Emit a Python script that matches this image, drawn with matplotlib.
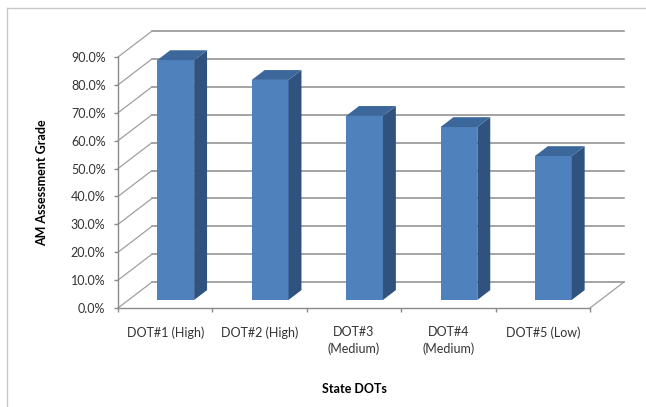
import matplotlib
matplotlib.use("Agg")
import matplotlib.pyplot as plt
from matplotlib.patches import Polygon
from matplotlib.lines import Line2D

# Chart data
categories = ["DOT#1 (High)", "DOT#2 (High)", "DOT#3\n(Medium)",
              "DOT#4\n(Medium)", "DOT#5 (Low)"]
grades = [86.0, 78.9, 66.0, 62.0, 51.6]
y_ticks = [0, 10, 20, 30, 40, 50, 60, 70, 80, 90]

plt.rcParams['font.family'] = ['Lato', 'DejaVu Sans']

# pseudo 3d settings (in data units)
DX = 0.36      # depth shift along x (categories)
DY = 9.3       # depth shift along y (percent)
f0, f1 = 0.31, 0.69   # bar depth span
bar_w = 0.39

front_c = '#4F81BD'
side_c = '#2F527E'
top_c = '#3C679B'
grid_c = '#8A8A8A'
fs = 9

fig = plt.figure(figsize=(6.46, 4.07), dpi=100)
ax = fig.add_axes([118 / 646, 99 / 407, 472 / 646, 251 / 407])
ax.set_xlim(0, len(categories))
ax.set_ylim(0, 90)
ax.patch.set_visible(False)

# back wall gridlines
for v in y_ticks:
    ax.plot([DX, len(categories) + DX], [v + DY, v + DY], color=grid_c,
            lw=1.1, clip_on=False, zorder=1)
    # side wall diagonals
    ax.plot([0, DX], [v, v + DY], color='#A0A0A0', lw=0.9, clip_on=False, zorder=1)

# floor right edge
n = len(categories)
ax.plot([n, n + DX], [0, DY], color='#A0A0A0', lw=0.9, clip_on=False, zorder=1)

# bars
d = f1 - f0
for i, v in enumerate(grades):
    xl = i + 0.5 - bar_w / 2 + f0 * DX
    xr = xl + bar_w
    b = f0 * DY
    ax.add_patch(Polygon([(xl, b), (xr, b), (xr, b + v), (xl, b + v)],
                         closed=True, facecolor=front_c, edgecolor='none',
                         clip_on=False, zorder=3))
    ax.add_patch(Polygon([(xr, b), (xr + d * DX, b + d * DY),
                          (xr + d * DX, b + d * DY + v), (xr, b + v)],
                         closed=True, facecolor=side_c, edgecolor='none',
                         clip_on=False, zorder=3))
    ax.add_patch(Polygon([(xl, b + v), (xr, b + v), (xr + d * DX, b + v + d * DY),
                          (xl + d * DX, b + v + d * DY)],
                         closed=True, facecolor=top_c, edgecolor='none',
                         clip_on=False, zorder=3))

# axes styling
for s in ['top', 'right']:
    ax.spines[s].set_visible(False)
for s in ['left', 'bottom']:
    ax.spines[s].set_color(grid_c)
    ax.spines[s].set_linewidth(1.0)

ax.set_yticks(y_ticks)
ax.set_yticklabels(["%.1f%%" % t for t in y_ticks])
ax.tick_params(axis='y', length=3, width=1, color=grid_c, pad=6,
               labelsize=fs, labelcolor='#333333')

ax.set_xticks(range(n + 1))
ax.set_xticklabels([])
ax.tick_params(axis='x', which='major', length=3, width=1, color=grid_c)
ax.set_xticks([i + 0.5 for i in range(n)], minor=True)
ax.set_xticklabels(categories, minor=True, linespacing=1.45)
ax.tick_params(axis='x', which='minor', length=0, pad=13,
               labelsize=fs, labelcolor='#333333')

ax.set_ylabel("AM Assessment Grade", fontsize=fs, fontweight='bold')
ax.yaxis.set_label_coords(-0.148, 0.5)
ax.set_xlabel("State DOTs", fontsize=fs, fontweight='bold')
ax.xaxis.set_label_coords(0.5, -0.30)

# chart area border (only top and left visible in the crop)
fig.add_artist(Line2D([7 / 646, 7 / 646], [0, 1 - 8 / 407], color='#C8C8C8', lw=1))
fig.add_artist(Line2D([7 / 646, 1], [1 - 8 / 407, 1 - 8 / 407], color='#C8C8C8', lw=1))

fig.savefig("out.png", dpi=100)
